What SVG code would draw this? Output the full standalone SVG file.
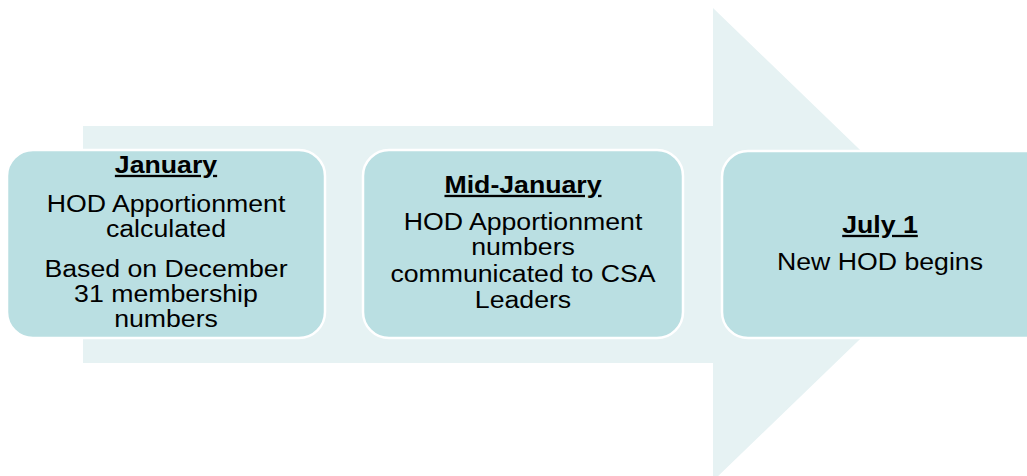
<svg xmlns="http://www.w3.org/2000/svg" width="1027" height="476" viewBox="0 0 1027 476">
<style>
.box{fill:#badfe2;stroke:#ffffff;stroke-width:2.5}
.t{font-family:"Liberation Sans",Arial,sans-serif;font-size:23px;fill:#000;text-anchor:middle}
.h{font-weight:bold;text-decoration:underline}
</style>
<rect width="1027" height="476" fill="#ffffff"/>
<g id="arrow">
<polygon points="83,126 713,126 713,8 958,244.5 713,481 713,363 83,363" fill="#e6f2f3"/>
</g>
<g id="connectors"></g>
<g id="node-january">
<rect class="box" x="7" y="150" width="318" height="188" rx="26"/>
<g transform="translate(166,0) scale(1.16,1)">
<text class="t h" x="0" y="173">January</text>
<text class="t" x="0" y="212">HOD Apportionment</text>
<text class="t" x="0" y="237">calculated</text>
<text class="t" x="0" y="277">Based on December</text>
<text class="t" x="0" y="302">31 membership</text>
<text class="t" x="0" y="327">numbers</text>
</g>
</g>
<g id="node-midjanuary">
<rect class="box" x="363" y="150" width="320" height="188" rx="26"/>
<g transform="translate(523,0) scale(1.16,1)">
<text class="t h" x="0" y="193">Mid-January</text>
<text class="t" x="0" y="230">HOD Apportionment</text>
<text class="t" x="0" y="255">numbers</text>
<text class="t" x="0" y="282">communicated to CSA</text>
<text class="t" x="0" y="308">Leaders</text>
</g>
</g>
<g id="node-july">
<rect class="box" x="722" y="151" width="330" height="187" rx="26"/>
<g transform="translate(880,0) scale(1.16,1)">
<text class="t h" x="0" y="233">July 1</text>
<text class="t" x="0" y="270">New HOD begins</text>
</g>
</g>
</svg>
